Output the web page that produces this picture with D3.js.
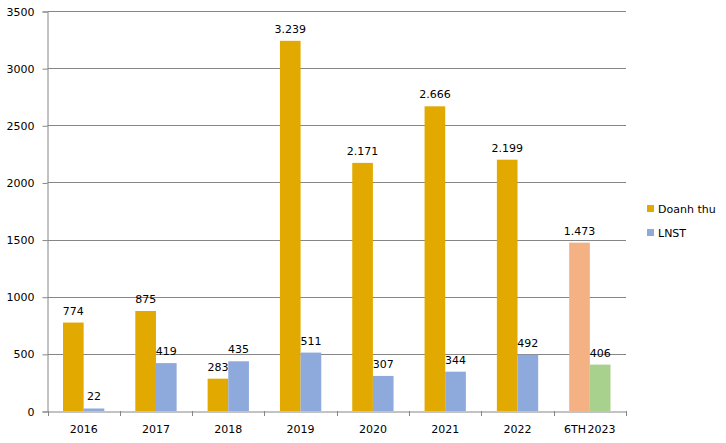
<!DOCTYPE html>
<html>
<head>
<meta charset="utf-8">
<script src="https://cdn.jsdelivr.net/npm/d3@7"></script>
<style>
  body { margin: 0; background: #fff; }
  svg text { font-family: "DejaVu Sans", Verdana, sans-serif; font-size: 11px; fill: #000; }
</style>
</head>
<body>
<svg id="chart" width="726" height="443"></svg>
<script>
// data
const years = ["2016", "2017", "2018", "2019", "2020", "2021", "2022", "6TH 2023"];
const doanhThu = [774, 875, 283, 3239, 2171, 2666, 2199, 1473];
const lnst = [22, 419, 435, 511, 307, 344, 492, 406];
const seriesNames = ["Doanh thu", "LNST"];
const yTicks = [0, 500, 1000, 1500, 2000, 2500, 3000, 3500];

const colors = { "Doanh thu": "#E2AA00", "LNST": "#8EA9DB" };
// last category (half-year) drawn in lighter colours
const lastColors = { "Doanh thu": "#F4B183", "LNST": "#A9D18E" };

const svg = d3.select("#chart");
const margin = { top: 11, left: 47.5, right: 100, bottom: 32 };
const plotRight = 626;
const plotBottom = 411;

const x = d3.scaleBand()
    .domain(years)
    .range([margin.left, plotRight]);

const xSub = d3.scaleBand()
    .domain(seriesNames)
    .range([15.5, x.bandwidth() - 15.5]);

const y = d3.scaleLinear()
    .domain([0, 3500])
    .range([plotBottom, margin.top]);

// gridlines
svg.append("g")
    .selectAll("line")
    .data(yTicks.filter(d => d > 0))
    .enter()
    .append("line")
    .attr("x1", margin.left)
    .attr("x2", plotRight)
    .attr("y1", d => Math.round(y(d)) + 0.5)
    .attr("y2", d => Math.round(y(d)) + 0.5)
    .attr("stroke", "#868686")
    .attr("stroke-width", 1);

// y axis
const yAxis = svg.append("g")
    .attr("transform", `translate(${margin.left},0.5)`)
    .call(d3.axisLeft(y).tickValues(yTicks).tickSize(5).tickPadding(8).tickFormat(d3.format("d")));
yAxis.selectAll("line").attr("stroke", "#868686");
yAxis.select(".domain").attr("stroke", "#868686");
yAxis.selectAll("text").style("font-size", "11px").style("fill", "#000");

// bars
const data = [];
years.forEach((yr, i) => {
    data.push({ year: yr, series: "Doanh thu", value: doanhThu[i], last: i === years.length - 1 });
    data.push({ year: yr, series: "LNST", value: lnst[i], last: i === years.length - 1 });
});

svg.append("g")
    .selectAll("rect")
    .data(data)
    .enter()
    .append("rect")
    .attr("x", d => x(d.year) + xSub(d.series))
    .attr("y", d => y(d.value))
    .attr("width", xSub.bandwidth())
    .attr("height", d => plotBottom - y(d.value))
    .attr("fill", d => d.last ? lastColors[d.series] : colors[d.series]);

// x axis
const xAxis = svg.append("g")
    .attr("transform", `translate(0,${plotBottom + 0.5})`)
    .call(d3.axisBottom(x).tickSize(0).tickPadding(14));
xAxis.select(".domain").attr("stroke", "#868686");
xAxis.selectAll("text")
    .style("font-size", "11px")
    .style("fill", "#000")
    .style("word-spacing", "-2px");
// tick marks between categories
svg.append("g")
    .selectAll("line")
    .data(years.concat(["end"]))
    .enter()
    .append("line")
    .attr("x1", (d, i) => Math.round(margin.left + i * x.step()) + 0.5)
    .attr("x2", (d, i) => Math.round(margin.left + i * x.step()) + 0.5)
    .attr("y1", plotBottom)
    .attr("y2", plotBottom + 5)
    .attr("stroke", "#868686");

// value labels
const fmt = v => v >= 1000 ? Math.floor(v / 1000) + "." + String(v % 1000).padStart(3, "0") : String(v);
svg.append("g")
    .selectAll("text")
    .data(data)
    .enter()
    .append("text")
    .attr("x", d => x(d.year) + xSub(d.series) + xSub.bandwidth() / 2)
    .attr("y", d => y(d.value) - 8)
    .attr("text-anchor", "middle")
    .text(d => fmt(d.value));

// legend
const legend = svg.append("g")
    .attr("transform", "translate(647,205)");
seriesNames.forEach((name, i) => {
    const g = legend.append("g").attr("transform", `translate(0,${i * 24})`);
    g.append("rect")
        .attr("width", 7)
        .attr("height", 7)
        .attr("fill", colors[name]);
    g.append("text")
        .attr("x", 11)
        .attr("y", 7.5)
        .text(name);
});
</script>
</body>
</html>
